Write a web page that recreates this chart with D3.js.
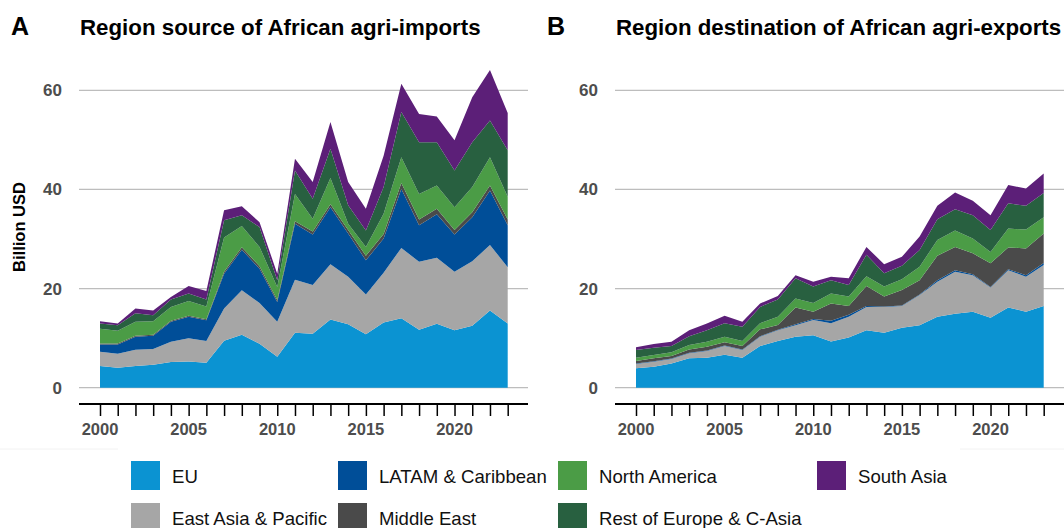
<!DOCTYPE html>
<html><head><meta charset="utf-8">
<script src="https://cdn.jsdelivr.net/npm/d3@7"></script>
<style>
html,body{margin:0;padding:0;background:#fff;}
svg{display:block;font-family:"Liberation Sans",Arial,sans-serif;}
</style></head>
<body>
<svg id="chart" width="1064" height="528"></svg>
<script>
const years = d3.range(2000, 2024);
const regions = ["EU","East Asia & Pacific","LATAM & Caribbean","Middle East","North America","Rest of Europe & C-Asia","South Asia"];
const colors = ["#0b93d2","#a6a6a6","#004e98","#4a4a4a","#4b9c46","#286040","#5c1f78"];
const yTicks = [0,20,40,60];
const xTickLabels = [2000,2005,2010,2015,2020];

// Panel A: imports (billion USD)
const impEU    = [4.36,4.03,4.36,4.63,5.17,5.30,5.03,9.46,10.7,8.86,6.24,11.07,10.87,13.76,12.8,10.8,13.15,14.0,11.7,12.9,11.6,12.5,15.6,12.95];
const impEAP   = [2.89,2.82,3.29,3.16,4.09,4.7,4.37,6.51,8.96,8.24,7.06,10.73,9.83,11.14,9.6,8.0,10.05,14.2,13.7,13.3,11.8,13.0,13.2,11.35];
const impLATAM = [1.47,1.87,2.62,2.71,4.04,4.3,4.2,7.03,8.19,6.9,4.0,11.3,10.2,11.5,8.7,6.9,6.9,11.9,7.35,8.8,7.5,8.9,11.0,8.45];
const impME    = [0.2,0.2,0.2,0.2,0.2,0.2,0.2,0.4,0.5,0.5,0.4,0.5,0.6,0.6,0.7,0.9,0.9,1.2,1.2,1.1,0.9,1.0,1.0,1.2];
const impNA    = [2.98,2.58,2.83,2.7,2.8,3.0,2.6,6.9,4.25,3.9,2.6,5.5,2.6,5.3,1.3,1.8,4.1,5.2,5.15,4.7,4.6,5.1,5.7,4.55];
const impRE    = [1.05,1.1,1.7,1.2,1.5,1.5,1.4,3.5,2.2,4.0,1.4,4.7,4.0,5.9,3.7,3.3,5.4,9.1,10.4,8.7,7.4,9.0,7.4,9.4];
const impSA    = [0.45,0.35,1.0,1.0,0.5,1.5,1.7,2.0,1.8,1.0,1.3,2.4,3.4,5.4,4.7,4.4,6.3,5.7,5.7,5.2,6.1,9.1,10.2,7.5];

// Panel B: exports (billion USD)
const expEU    = [3.9,4.24,4.9,5.92,6.05,6.66,6.05,8.4,9.4,10.3,10.6,9.3,10.15,11.6,11.1,12.1,12.6,14.3,14.9,15.3,14.1,16.2,15.3,16.5];
const expEAP   = [0.87,1.01,0.88,1.01,1.35,1.74,1.55,1.9,2.2,2.3,3.05,3.7,4.15,4.7,5.2,4.4,6.1,7.1,8.5,7.4,6.1,7.5,7.1,8.25];
const expLATAM = [0.1,0.1,0.1,0.1,0.1,0.1,0.1,0.1,0.1,0.2,0.2,0.5,0.4,0.2,0.1,0.1,0.1,0.3,0.3,0.2,0.1,0.2,0.3,0.4];
const expME    = [0.51,0.57,0.51,0.7,0.77,0.65,0.7,1.37,0.94,3.4,1.45,3.5,1.8,4.0,2.0,3.1,2.9,4.9,4.7,4.2,4.8,4.4,5.4,5.95];
const expNA    = [0.67,0.68,0.74,0.87,1.0,1.15,1.0,1.23,1.66,1.8,1.8,2.0,1.9,2.0,2.0,2.2,2.7,3.2,3.3,3.0,2.3,3.8,3.8,3.3];
const expRE    = [1.55,1.47,1.27,1.8,2.3,2.7,2.9,3.3,3.5,4.1,3.3,2.7,2.3,4.3,2.7,2.7,3.4,4.2,4.3,4.7,4.4,5.1,4.8,4.9];
const expSA    = [0.54,0.73,0.88,1.2,1.4,1.5,1.0,0.7,0.7,0.6,1.0,0.7,1.4,1.6,1.8,1.8,2.7,2.7,3.4,2.9,3.0,3.7,3.5,3.9];

const panels = [
  {letter:"A", title:"Region source of African agri-imports", series:[impEU,impEAP,impLATAM,impME,impNA,impRE,impSA], dx:0},
  {letter:"B", title:"Region destination of African agri-exports", series:[expEU,expEAP,expLATAM,expME,expNA,expRE,expSA], dx:536}
];

const svg = d3.select("#chart");
const y = d3.scaleLinear().domain([0,60]).range([387.7,90.3]);

panels.forEach(p => {
  const g = svg.append("g").attr("transform", `translate(${p.dx},0)`);
  const x = d3.scaleLinear().domain([2000,2023]).range([100,507.7]);
  const gridRight = p.dx === 0 ? 528 : 600;

  // letters and titles
  g.append("text").attr("x", 11).attr("y", 35).attr("font-size", 25).attr("font-weight", "bold").attr("fill", "#000").text(p.letter);
  g.append("text").attr("x", 80).attr("y", 35).attr("font-size", 22.3).attr("font-weight", "bold").attr("fill", "#000").text(p.title);

  // gridlines
  g.append("g").selectAll("line").data(yTicks).join("line")
    .attr("x1", 79).attr("x2", gridRight)
    .attr("y1", d => y(d)).attr("y2", d => y(d))
    .attr("stroke", "#bdbdbd").attr("stroke-width", 1.3);

  // y tick labels
  g.append("g").selectAll("text").data(yTicks).join("text")
    .attr("x", 62).attr("y", d => y(d)).attr("dy", "0.35em")
    .attr("text-anchor", "end").attr("font-size", 17).attr("font-weight", "bold").attr("fill", "#4d4d4d")
    .text(d => d);

  // stacked areas
  const table = years.map((yr, i) => {
    const o = {year: yr};
    regions.forEach((r, k) => o[r] = p.series[k][i]);
    return o;
  });
  const stacked = d3.stack().keys(regions)(table);
  const area = d3.area().x(d => x(d.data.year)).y0(d => y(d[0])).y1(d => y(d[1]));
  g.append("g").selectAll("path").data(stacked).join("path")
    .attr("d", area).attr("fill", (d, i) => colors[i]);

  // x axis
  const axis = d3.axisBottom(x).tickValues(years).tickSize(12).tickFormat("");
  const ax = g.append("g").attr("transform", "translate(0,404)").call(axis);
  ax.select(".domain").remove();
  ax.selectAll(".tick line").attr("stroke", "#000").attr("stroke-width", 1.5);
  g.append("line").attr("x1", 79).attr("x2", gridRight).attr("y1", 404).attr("y2", 404)
    .attr("stroke", "#000").attr("stroke-width", 2.2);
  g.append("g").selectAll("text").data(xTickLabels).join("text")
    .attr("x", d => x(d)).attr("y", 429).attr("dy", "0.35em")
    .attr("text-anchor", "middle").attr("font-size", 16.5).attr("font-weight", "bold").attr("fill", "#4d4d4d")
    .text(d => d);
});

// y axis title
svg.append("text").attr("transform", "translate(25,227) rotate(-90)")
  .attr("text-anchor", "middle").attr("font-size", 16.5).attr("font-weight", "bold").attr("fill", "#000")
  .text("Billion USD");

// faint legend box edges
svg.append("line").attr("x1", 0).attr("x2", 118).attr("y1", 449).attr("y2", 449).attr("stroke", "#f2f2f2");
svg.append("line").attr("x1", 960).attr("x2", 1064).attr("y1", 449).attr("y2", 449).attr("stroke", "#f2f2f2");

// legend
const legendPos = [[131,461],[131,503],[338,461],[338,503],[558,461],[558,503],[817,461]];
const lg = svg.append("g").selectAll("g").data(regions).join("g")
  .attr("transform", (d, i) => `translate(${legendPos[i][0]},${legendPos[i][1]})`);
lg.append("rect").attr("width", 29).attr("height", 29).attr("fill", (d, i) => colors[i]);
lg.append("text").attr("x", 41).attr("y", 15).attr("dy", "0.35em")
  .attr("font-size", 18.6).attr("fill", "#111").text(d => d);
</script>
</body></html>
